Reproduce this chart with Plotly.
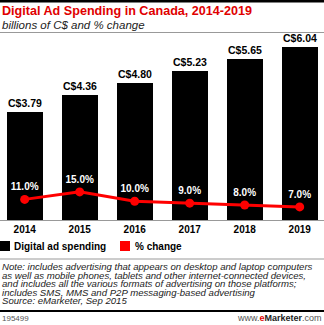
import plotly.graph_objects as go

# Data
years = ["2014", "2015", "2016", "2017", "2018", "2019"]
spending = [3.79, 4.36, 4.80, 5.23, 5.65, 6.04]       # billions of C$
pct_change = [11.0, 15.0, 10.0, 9.0, 8.0, 7.0]         # % change

W, H = 324, 325
RED = "#ff0000"
FONT = "Liberation Sans, Arial, sans-serif"


def py(px):
    """Convert a pixel row (from top) to paper y."""
    return 1 - px / H


fig = go.Figure()

fig.add_trace(go.Bar(
    x=years, y=spending, width=0.655,
    marker=dict(color="#000000", line=dict(width=0)),
    texttemplate="<b>C$%{y:.2f}</b>", textposition="outside",
    textfont=dict(family=FONT, size=10.5, color="#000000"),
    cliponaxis=False, showlegend=False, name="Digital ad spending",
))

fig.add_trace(go.Scatter(
    x=years, y=pct_change, yaxis="y2", mode="lines+markers+text",
    line=dict(color=RED, width=3), marker=dict(color=RED, size=9),
    texttemplate="<b>%{y:.1f}%</b>", textposition="top center",
    textfont=dict(family=FONT, size=10, color="#ffffff"),
    cliponaxis=False, showlegend=False, name="% change",
))

fig.update_layout(
    width=W, height=H, margin=dict(l=0, r=0, t=0, b=0),
    paper_bgcolor="white", plot_bgcolor="white",
    font=dict(family=FONT),
    xaxis=dict(type="category", range=[-0.449, 5.442], showgrid=False,
               showline=True, linecolor="#999999", linewidth=1,
               ticks="", tickfont=dict(family=FONT, size=10, color="#000000"),
               tickprefix="<b>", ticksuffix="</b>"),
    yaxis=dict(domain=[py(220), py(40)], range=[0, 180 / 28.58],
               visible=False, showgrid=False, zeroline=False),
    yaxis2=dict(domain=[py(220), py(40)], range=[0, 96], overlaying="y",
                visible=False, showgrid=False, zeroline=False),
    bargap=0,
)

annotations = [
    dict(text="<b>Digital Ad Spending in Canada, 2014-2019</b>", x=0, y=py(11),
         font=dict(size=12.6, color="#e00000")),
    dict(text="<i>billions of C$ and % change</i>", x=0, y=py(24.5),
         font=dict(size=11.5, color="#222222")),
    dict(text="<b>Digital ad spending</b>", x=12 / W, y=py(246),
         font=dict(size=10, color="#000000")),
    dict(text="<b>% change</b>", x=133 / W, y=py(246),
         font=dict(size=10, color="#000000")),
]

note_lines = [
    "Note: includes advertising that appears on desktop and laptop computers",
    "as well as mobile phones, tablets and other internet-connected devices,",
    "and includes all the various formats of advertising on those platforms;",
    "includes SMS, MMS and P2P messaging-based advertising",
    "Source: eMarketer, Sep 2015",
]
note_rows = [266.7, 275.2, 283.7, 292.2, 300.7]
for line, row in zip(note_lines, note_rows):
    annotations.append(dict(text=f"<i>{line}</i>", x=0, y=py(row),
                            font=dict(size=9.6, color="#222222")))

annotations.append(dict(text="195499", x=0, y=py(318),
                        font=dict(size=8, color="#555555")))
annotations.append(dict(
    text="<span style='color:#555555'>www.</span><b><span style='color:#e00000'>e</span>"
         "<span style='color:#222222'>Marketer</span></b><span style='color:#555555'>.com</span>",
    x=1, y=py(318), xanchor="right", font=dict(size=9)))

for a in annotations:
    a.setdefault("xref", "paper")
    a.setdefault("yref", "paper")
    a.setdefault("xanchor", "left")
    a.setdefault("yanchor", "middle")
    a.setdefault("showarrow", False)
    a.setdefault("align", "left")
fig.update_layout(annotations=annotations)

shapes = [
    # header/footer rules
    dict(type="line", x0=0, x1=1, y0=py(1.2), y1=py(1.2), line=dict(color="#000000", width=2.5)),
    dict(type="line", x0=0, x1=1, y0=py(32.5), y1=py(32.5), line=dict(color="#999999", width=1)),
    dict(type="line", x0=0, x1=1, y0=py(259), y1=py(259), line=dict(color="#999999", width=1)),
    dict(type="line", x0=0, x1=1, y0=py(311), y1=py(311), line=dict(color="#000000", width=2)),
    # legend swatches
    dict(type="rect", x0=0, x1=10 / W, y0=py(251), y1=py(241), fillcolor="#000000", line=dict(width=0)),
    dict(type="rect", x0=120 / W, x1=130 / W, y0=py(251), y1=py(241), fillcolor=RED, line=dict(width=0)),
]
for s in shapes:
    s["xref"] = "paper"
    s["yref"] = "paper"
fig.update_layout(shapes=shapes)

fig.write_html("out.html")
